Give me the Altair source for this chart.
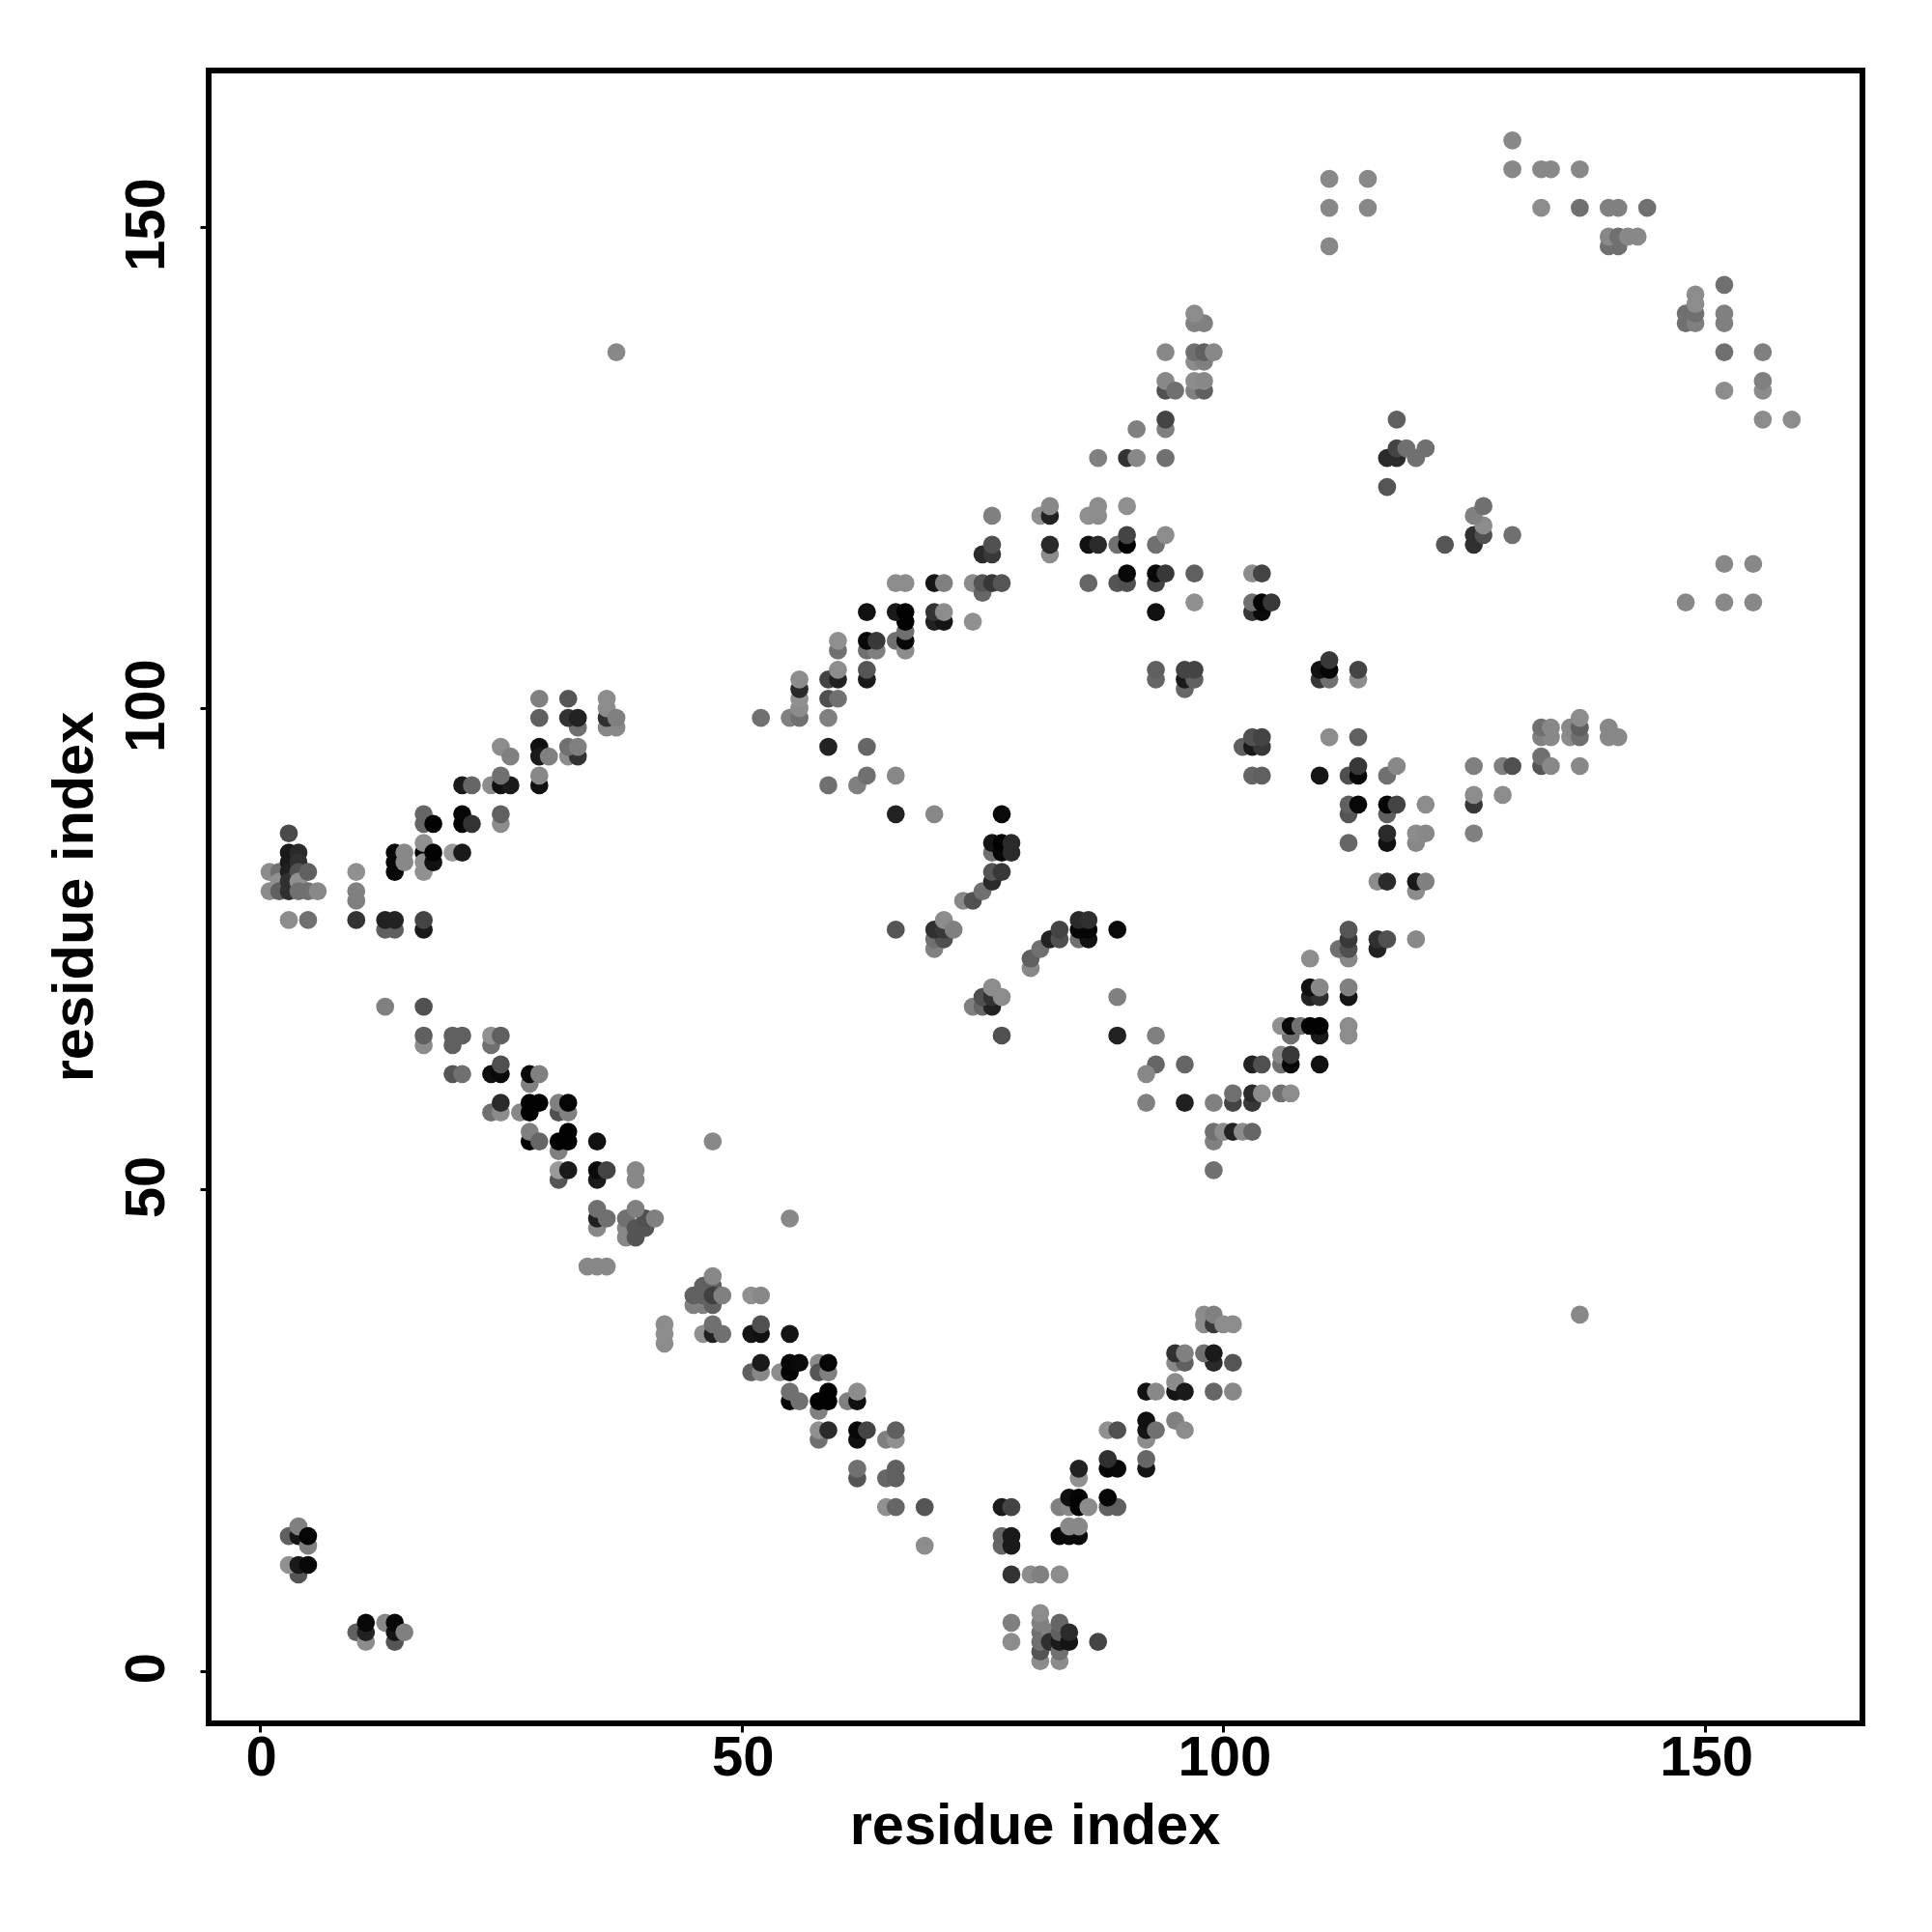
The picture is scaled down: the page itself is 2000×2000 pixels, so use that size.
import altair as alt
import pandas as pd

# (residue i, residue j, grey level 0-255)
corner_cluster = [
 (3,87,0x4a),(1,83,0x8c),(1,81,0x8c),(2,83,0x70),(2,82,0x90),(2,81,0x60),(3,85,0x1a),(3,84,0x1a),(3,83,0x20),(3,82,0x30),(3,81,0x30),
 (4,85,0x2a),(4,84,0x30),(4,83,0x50),(4,82,0x90),(4,81,0x70),(5,83,0x60),(5,81,0x70),(6,81,0x88),(3,78,0x8c),(5,78,0x70),
 (10,83,0x90),(10,81,0x80),(10,80,0x80),(10,78,0x33),(13,77,0x60),(14,77,0x60),(13,78,0x22),(14,78,0x22),(17,77,0x1a),(17,78,0x44),
]
upper_left = [
 (14,85,0x08),(14,84,0x08),(14,83,0x08),(15,85,0x88),(15,84,0x88),(17,85,0x05),(17,83,0x90),(17,84,0x90),(17,86,0x90),(18,84,0x11),(18,85,0x02),
 (20,85,0x99),(21,85,0x1a),(17,88,0x66),(17,89,0x66),(18,88,0x02),(21,88,0x05),(21,89,0x05),(22,88,0x33),(25,88,0x8c),(25,89,0x60),
 (21,92,0x1a),(22,92,0x66),(24,92,0x8c),(25,92,0x11),(26,92,0x1a),(25,93,0x70),(29,92,0x11),(29,93,0x88),
 (25,96,0x8c),(26,95,0x80),(29,96,0x11),(29,95,0x1a),(30,95,0x80),(32,95,0x8c),(33,95,0x33),(32,96,0x70),(33,96,0x80),
 (29,101,0x80),(32,101,0x55),(29,99,0x60),(33,98,0x70),(32,99,0x33),(33,99,0x22),
 (36,98,0x88),(37,98,0x88),(36,99,0x30),(36,101,0x8c),(36,100,0x8c),(37,99,0x80),(37,137,0x88),
]
lower_diagonal = [
 (13,69,0x80),(17,69,0x50),(17,65,0x8c),(17,66,0x60),(20,65,0x60),(20,66,0x60),(21,66,0x60),(24,65,0x70),(24,66,0x90),(25,66,0x60),
 (20,62,0x55),(21,62,0x70),(24,62,0x0f),(25,62,0x0a),(25,63,0x50),(28,61,0x80),(28,62,0x08),(29,62,0x80),
 (24,58,0x70),(25,58,0x8c),(25,59,0x2a),(27,58,0x88),(28,58,0x02),(28,59,0x02),(29,59,0x02),(31,58,0x50),(32,58,0x80),(31,59,0x80),(32,59,0x05),
 (28,55,0x02),(28,56,0x80),(29,55,0x66),(31,54,0x80),(31,55,0x02),(32,55,0x02),(32,56,0x02),(35,55,0x11),(47,55,0x88),
 (31,51,0x55),(31,52,0x99),(32,52,0x1a),(35,51,0x1a),(35,52,0x0a),(36,52,0x44),(39,51,0x88),(39,52,0x88),
 (35,46,0x88),(35,47,0x20),(35,48,0x70),(36,47,0x70),(38,45,0x88),(38,46,0x88),(38,47,0x70),(39,45,0x55),(39,46,0x55),(40,46,0x55),(40,47,0x50),(39,48,0x80),(41,47,0x80),(55,47,0x88),
 (34,42,0x88),(35,42,0x88),(36,42,0x88),
]
lower_middle = [
 (45,38,0x80),(46,38,0x80),(47,38,0x60),(46,40,0x60),(47,40,0x60),(45,39,0x60),(46,39,0x60),(47,39,0x40),(47,41,0x88),(48,39,0x80),(51,39,0x90),(52,39,0x88),
 (42,36,0x8c),(42,35,0x8c),(42,34,0x8c),(46,35,0x90),(47,35,0x20),(47,36,0x70),(48,35,0x70),(51,35,0x15),(52,35,0x11),(52,36,0x50),(55,35,0x15),
 (51,31,0x60),(52,31,0x88),(52,32,0x1a),(54,31,0x8c),(55,31,0x05),(55,32,0x05),(56,32,0x0a),(58,32,0x8c),(58,31,0x55),(59,31,0x80),(59,32,0x05),
 (55,28,0x05),(55,29,0x70),(56,28,0x70),(58,27,0x80),(58,28,0x02),(59,28,0x02),(59,29,0x02),(61,28,0x80),(62,28,0x10),(62,29,0x8c),
 (58,24,0x70),(58,25,0x90),(59,25,0x2a),(62,24,0x10),(62,25,0x08),(63,25,0x44),(65,24,0x80),(66,24,0x90),(66,25,0x60),
 (62,20,0x55),(62,21,0x70),(65,20,0x66),(66,20,0x60),(66,21,0x60),(65,17,0x90),(66,17,0x66),(69,17,0x55),(69,13,0x8c),
]
lower_v = [
 (77,17,0x1a),(78,17,0x44),(77,13,0x66),(77,14,0x66),(78,13,0x1a),(78,14,0x1a),(78,10,0x33),(80,10,0x8c),(81,10,0x80),(83,10,0x8c),(78,5,0x80),(78,3,0x8c),
 (81,1,0x8c),(81,2,0x55),(81,3,0x70),(81,4,0x70),(81,5,0x80),(81,6,0x8c),(82,4,0x80),(82,3,0x30),(83,1,0x8c),(83,2,0x70),(83,3,0x1a),(83,4,0x60),(83,5,0x66),(84,3,0x15),(84,4,0x2a),(87,3,0x44),
 (83,14,0x0a),(84,14,0x0a),(85,14,0x0a),(84,15,0x88),(85,15,0x88),(83,17,0x80),(84,17,0x88),(84,18,0x10),(85,18,0x05),(85,17,0x02),(86,17,0x8c),(85,20,0x90),(85,21,0x22),
 (88,17,0x60),(89,17,0x60),(88,18,0x05),(88,21,0x05),(89,21,0x08),(88,22,0x30),(92,21,0x15),(92,22,0x66),(88,25,0x90),(89,25,0x50),(92,24,0x8c),(92,25,0x15),(92,26,0x10),(93,25,0x70),(95,26,0x80),(96,25,0x8c),
 (92,29,0x11),(93,29,0x88),(95,29,0x15),(95,30,0x8c),(96,29,0x1a),(99,29,0x66),(101,29,0x88),
 (95,32,0x88),(96,32,0x60),(95,33,0x30),(96,33,0x80),(99,32,0x2a),(98,33,0x70),(99,33,0x1a),(101,32,0x55),
 (98,36,0x8c),(98,37,0x8c),(99,36,0x38),(99,37,0x80),(100,36,0x8c),(101,36,0x8c),(137,37,0x88),
]
bottom_left = [
 (3,14,0x60),(4,14,0x15),(5,13,0x80),(4,15,0x80),(5,14,0x05),(4,10,0x55),(3,11,0x90),(4,11,0x1a),(5,11,0x08),
 (10,4,0x60),(11,3,0x8c),(11,4,0x22),(11,5,0x08),(13,5,0x88),(14,3,0x55),(14,4,0x15),(14,5,0x08),(15,4,0x80),
]
central_arcs = [
 (66,89,0x22),(70,89,0x88),(77,89,0x0a),(76,85,0x70),(76,86,0x15),(77,85,0x08),(77,86,0x02),(78,85,0x2a),(78,86,0x2a),
 (73,80,0x88),(74,80,0x50),(75,81,0x70),(76,82,0x2a),(76,83,0x55),(77,83,0x38),
 (66,77,0x55),(70,75,0x80),(70,76,0x70),(71,76,0x50),(70,77,0x30),(71,77,0x38),(71,78,0x8c),(72,77,0x80),
 (80,73,0x88),(80,74,0x60),(81,75,0x70),(82,76,0x22),(83,76,0x50),(83,77,0x44),(85,76,0x70),(86,76,0x11),(85,77,0x05),(86,77,0x05),(85,78,0x2a),(86,78,0x30),(89,77,0x0a),
 (74,69,0x80),(75,69,0x66),(76,69,0x22),(75,70,0x50),(76,70,0x33),(76,71,0x8c),(77,70,0x8c),(89,70,0x80),(77,66,0x50),(89,66,0x22),(93,66,0x80),
 (93,63,0x66),(96,63,0x66),(92,62,0x88),(92,59,0x80),(96,59,0x20),(99,59,0x80),
 (99,52,0x70),(99,55,0x80),(99,56,0x70),(100,56,0x8c),(101,56,0x22),(102,56,0x8c),(103,56,0x66),
]
rising_arm = [
 (101,59,0x44),(101,60,0x70),(103,59,0x38),(103,60,0x2a),(104,60,0x8c),(106,60,0x70),(107,60,0x8c),
 (103,63,0x22),(104,63,0x50),(106,63,0x70),(106,64,0x88),(107,63,0x08),(107,64,0x38),(110,63,0x11),
 (107,66,0x70),(106,67,0x90),(107,67,0x0a),(108,67,0x70),(110,66,0x1a),(109,67,0x02),(110,67,0x02),(113,66,0x8c),(113,67,0x8c),
 (109,70,0x22),(110,70,0x30),(109,71,0x10),(110,71,0x88),(113,70,0x15),(113,71,0x80),(109,74,0x8c),
 (113,74,0x88),(112,75,0x70),(113,75,0x50),(113,76,0x38),(113,77,0x55),(116,75,0x22),(116,76,0x30),(117,76,0x50),(120,76,0x88),
 (116,82,0x8c),(117,82,0x2a),(120,81,0x8c),(120,82,0x1a),(121,82,0x80),
 (113,86,0x66),(117,86,0x11),(117,87,0x2a),(120,86,0x88),(120,87,0x8c),(121,87,0x88),(126,87,0x80),
 (113,89,0x55),(113,90,0x60),(114,90,0x08),(117,89,0x60),(117,90,0x05),(118,90,0x44),(121,90,0x8c),(126,90,0x38),(126,91,0x8c),(129,91,0x8c),
 (110,93,0x15),(113,93,0x50),(114,93,0x08),(114,94,0x38),(117,93,0x70),(118,94,0x88),(126,94,0x80),(129,94,0x80),(130,94,0x50),
 (133,94,0x55),(133,95,0x70),(134,94,0x88),(137,94,0x88),(133,97,0x80),(134,97,0x88),(133,98,0x70),(134,98,0x88),(136,97,0x8c),(136,98,0x88),(137,97,0x70),(137,98,0x60),(137,99,0x8c),(140,97,0x88),(141,97,0x88),(140,98,0x88),
 (103,93,0x66),(104,93,0x60),(102,96,0x60),(103,96,0x1a),(104,96,0x38),(103,97,0x50),(104,97,0x44),(111,97,0x8c),(114,97,0x60),
]
upper_diagonal = [
 (52,99,0x70),(55,99,0x80),(56,99,0x70),(56,100,0x8c),(56,101,0x90),(56,102,0x2a),(56,103,0x8c),(59,99,0x80),(59,101,0x50),(60,101,0x70),
 (59,96,0x22),(63,96,0x66),(59,92,0x70),(62,92,0x80),(63,93,0x70),(66,93,0x88),
 (59,103,0x44),(60,103,0x22),(60,104,0x8c),(63,103,0x1a),(63,104,0x55),(60,106,0x70),(60,107,0x90),(63,106,0x70),(64,106,0x80),(63,107,0x08),(64,107,0x38),
 (66,107,0x70),(67,106,0x8c),(67,107,0x08),(67,108,0x70),(67,109,0x02),(63,110,0x11),(66,110,0x1a),(67,110,0x02),(70,109,0x22),(71,109,0x15),(70,110,0x33),(71,110,0x8c),(74,109,0x90),
 (66,113,0x8c),(67,113,0x8c),(70,113,0x15),(71,113,0x80),(74,113,0x8c),(75,112,0x66),(75,113,0x55),(76,113,0x38),(77,113,0x55),
 (75,116,0x2a),(76,116,0x38),(76,117,0x50),(76,120,0x80),(81,120,0x90),(82,120,0x22),(82,121,0x88),(82,116,0x8c),(82,117,0x2a),
 (86,113,0x66),(86,117,0x11),(87,117,0x2a),(86,120,0x90),(87,120,0x8c),(87,121,0x8c),(87,126,0x80),(90,126,0x33),(91,126,0x88),(94,126,0x70),
 (89,113,0x55),(90,113,0x50),(90,114,0x08),(89,117,0x70),(90,117,0x02),(90,118,0x44),(90,121,0x90),(93,117,0x70),(94,118,0x8c),
 (93,110,0x11),(93,113,0x44),(93,114,0x08),(94,114,0x38),(97,111,0x90),(97,114,0x60),
 (91,129,0x80),(94,129,0x80),(94,130,0x44),(94,133,0x50),(94,134,0x88),(95,133,0x70),(94,137,0x88),
 (97,133,0x80),(98,133,0x60),(97,134,0x8c),(98,134,0x88),(97,136,0x8c),(98,136,0x80),(97,137,0x70),(98,137,0x60),(99,137,0x88),(97,140,0x80),(98,140,0x80),(97,141,0x8c),
]
right_clusters = [
 (93,103,0x66),(93,104,0x60),(96,102,0x66),(96,103,0x1a),(97,103,0x60),(96,104,0x44),(97,104,0x44),
 (103,110,0x38),(104,110,0x0a),(103,111,0x70),(104,111,0x05),(105,111,0x38),(103,114,0x8c),(104,114,0x44),
 (110,103,0x38),(111,103,0x70),(110,104,0x11),(111,104,0x05),(111,105,0x38),(114,103,0x8c),(114,104,0x44),
 (123,117,0x55),(126,117,0x30),(126,118,0x30),(127,118,0x50),(130,118,0x70),(127,119,0x8c),(126,120,0x80),(127,121,0x70),
 (117,123,0x55),(117,126,0x2a),(118,126,0x2a),(118,127,0x44),(119,127,0x70),(120,126,0x70),(121,127,0x70),(118,130,0x60),
 (148,111,0x88),(152,111,0x88),(155,111,0x88),(152,115,0x88),(155,115,0x88),
]
top_right = [
 (111,148,0x88),(111,152,0x88),(115,152,0x88),(111,155,0x88),(115,155,0x88),(130,156,0x88),(130,159,0x88),(133,156,0x88),(134,156,0x88),(137,156,0x88),
 (133,152,0x8c),(137,152,0x70),(140,152,0x80),(141,152,0x80),(144,152,0x70),(140,148,0x70),(141,148,0x70),(140,149,0x88),(141,149,0x70),(142,149,0x88),(143,149,0x88),
 (148,140,0x70),(148,141,0x70),(149,140,0x80),(149,141,0x70),(149,142,0x8c),(149,143,0x8c),(152,140,0x80),(152,141,0x80),(152,144,0x70),(152,137,0x70),(156,137,0x80),
 (152,133,0x8c),(156,133,0x8c),(156,134,0x80),(156,130,0x8c),(159,130,0x8c),
]
ticks = [0, 50, 100, 150]

rows = (corner_cluster + upper_left + lower_diagonal + lower_middle + lower_v + bottom_left
        + central_arcs + rising_arm + upper_diagonal + right_clusters + top_right)
df = pd.DataFrame(rows, columns=["i", "j", "grey"])

FONT = "Liberation Sans"
x_axis = alt.Axis(values=ticks, title="residue index", grid=False, domain=False, tickSize=9, tickWidth=3,
                  tickColor="black", labelFont=FONT, labelFontWeight="bold", labelFontSize=58, labelColor="black",
                  labelPadding=44, labelBaseline="alphabetic", labelOverlap=False, labelFlush=False, labelOffset=1,
                  titleFont=FONT, titleFontWeight="bold", titleFontSize=59.5, titleColor="black",
                  titleBaseline="alphabetic", titleY=124, titleX=855)
y_axis = alt.Axis(values=ticks, title="residue index", grid=False, domain=False, tickSize=9, tickWidth=3,
                  tickColor="black", labelFont=FONT, labelFontWeight="bold", labelFontSize=58, labelColor="black",
                  labelAngle=-90, labelAlign="center", labelBaseline="alphabetic", labelPadding=38,
                  labelOverlap=False, labelFlush=False, labelOffset=-3,
                  titleFont=FONT, titleFontWeight="bold", titleFontSize=59.5, titleColor="black",
                  titleAngle=-90, titleBaseline="alphabetic", titleAlign="center", titleX=-121, titleY=855)

chart = (alt.Chart(df)
    .mark_circle(size=350, opacity=1)
    .encode(
        x=alt.X("i:Q", axis=x_axis, scale=alt.Scale(domain=[-5.32, 166.34], nice=False, zero=False)),
        y=alt.Y("j:Q", axis=y_axis, scale=alt.Scale(domain=[-5.46, 166.26], nice=False, zero=False)),
        color=alt.Color("grey:Q", legend=None,
                        scale=alt.Scale(domain=[0, 255], range=["#000000", "#ffffff"], interpolate="rgb")),
    )
    .properties(width=1712, height=1711, background="white", autosize=alt.AutoSizeParams(type="none"),
                padding={"left": 208, "top": 65, "right": 60, "bottom": 200})
    .configure_view(stroke="black", strokeWidth=6))

chart.save("out.html", embed_options={"renderer": "svg", "actions": False})
